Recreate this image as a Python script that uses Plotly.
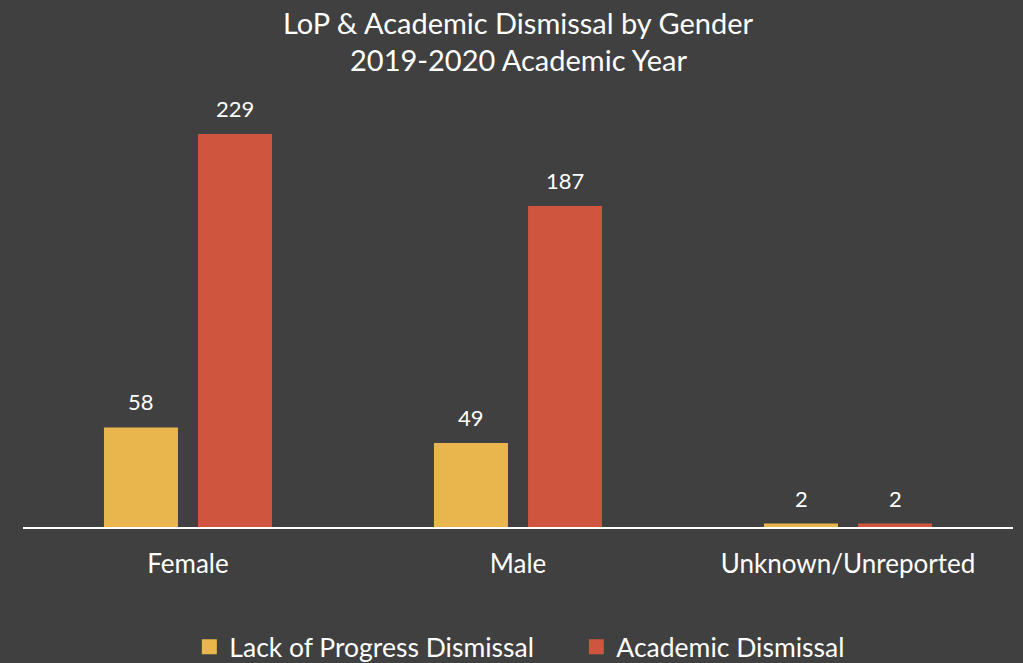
import plotly.graph_objects as go

categories = ["Female", "Male", "Unknown/Unreported"]
lop_values = [58, 49, 2]
academic_values = [229, 187, 2]
series_names = ["Lack of Progress Dismissal", "Academic Dismissal"]
title_lines = ["LoP & Academic Dismissal by Gender", "2019-2020 Academic Year"]

BG = "#404040"
FONT = "Lato"
colors = ["#E9B64E", "#D0553E"]
offsets = [-47, 47]

fig = go.Figure()
for name, vals, col in zip(series_names, [lop_values, academic_values], colors):
    fig.add_trace(go.Bar(
        x=categories, y=vals, name=name, marker=dict(color=col, line=dict(width=0)),
        showlegend=False, cliponaxis=False,
    ))
for name, col in zip(series_names, colors):
    fig.add_trace(go.Scatter(
        x=[None], y=[None], mode="markers", name=name,
        marker=dict(symbol="square", size=15, color=col),
    ))

for vals, off in zip([lop_values, academic_values], offsets):
    for c, v in zip(categories, vals):
        fig.add_annotation(x=c, y=v, text=str(v), showarrow=False, xshift=off,
                           yanchor="bottom", yshift=10,
                           font=dict(size=22, color="white", family=FONT))

for txt, yy in zip(title_lines, [1.2234, 1.1336]):
    fig.add_annotation(x=0.5, xref="paper", y=yy, yref="paper", text=txt,
                       showarrow=False, xanchor="center", yanchor="middle",
                       font=dict(size=29, color="white", family=FONT))

fig.update_layout(
    width=1023, height=663,
    paper_bgcolor=BG, plot_bgcolor=BG,
    font=dict(family=FONT, color="white"),
    barmode="group", bargap=0.43, bargroupgap=0.213,
    margin=dict(l=23, r=10, t=115, b=136, autoexpand=False),
    xaxis=dict(showline=True, linecolor="white", linewidth=2, showgrid=False,
               tickfont=dict(size=26, color="white", family=FONT), ticks="",
               ticklabelstandoff=13),
    yaxis=dict(range=[0, 240], visible=False, showgrid=False, zeroline=False),
    legend=dict(orientation="h", xref="container", yref="container",
                x=0.1851, xanchor="left", y=0.0241, yanchor="middle",
                font=dict(size=26.5, color="white", family=FONT),
                itemwidth=30, traceorder="normal",
                entrywidth=342, entrywidthmode="pixels"),
)
fig.write_html("out.html", config={"displayModeBar": False})

with open("out.html", "r", encoding="utf-8") as f:
    html = f.read()
html = html.replace("<head>", "<head><style>html,body{margin:0;padding:0;background:#404040;}</style>", 1)
with open("out.html", "w", encoding="utf-8") as f:
    f.write(html)
